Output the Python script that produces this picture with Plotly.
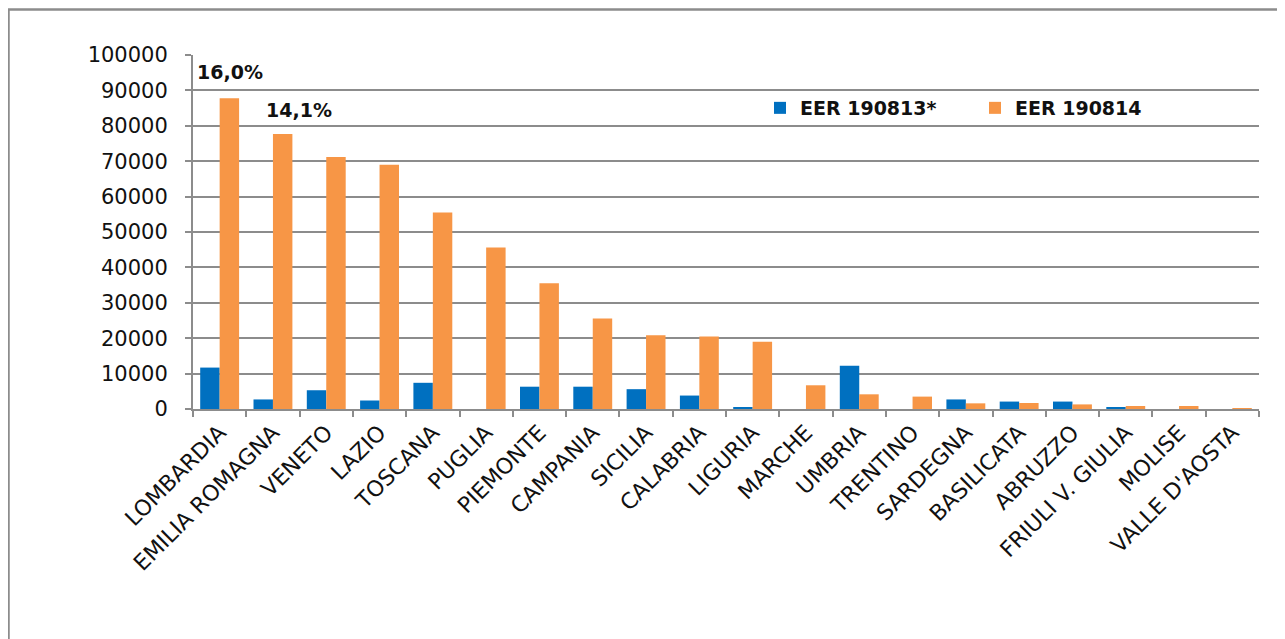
import plotly.graph_objects as go

regions = ["LOMBARDIA", "EMILIA ROMAGNA", "VENETO", "LAZIO", "TOSCANA", "PUGLIA",
           "PIEMONTE", "CAMPANIA", "SICILIA", "CALABRIA", "LIGURIA", "MARCHE",
           "UMBRIA", "TRENTINO", "SARDEGNA", "BASILICATA", "ABRUZZO",
           "FRIULI V. GIULIA", "MOLISE", "VALLE D'AOSTA"]
eer_190813 = [11700, 2700, 5300, 2400, 7400, 0, 6300, 6300, 5600, 3800, 570, 0,
              12250, 0, 2700, 2100, 2100, 570, 0, 0]
eer_190814 = [87800, 77700, 71200, 69000, 55500, 45600, 35500, 25600, 20800, 20500,
              19000, 6700, 4150, 3500, 1600, 1700, 1300, 850, 850, 100]
share_labels = ["16,0%", "14,1%"]
share_regions = ["LOMBARDIA", "EMILIA ROMAGNA"]
share_y = [95100, 84400]
share_xshift = [10, 26]

# the page body has an 8px margin, so the figure is drawn at (8, 8)
OFF = 8
W, H = 1285 - OFF, 639 - OFF
ML, MT = 193 - OFF, 55 - OFF
pw, ph = 1066, 354
MR = W - ML - pw
MB = H - MT - ph

GRID = "#8c8c8c"
FONT = "DejaVu Sans"

fig = go.Figure()
fig.add_trace(go.Bar(x=regions, y=eer_190813, name="EER 190813*",
                     marker=dict(color="#0070C0", line=dict(width=0))))
fig.add_trace(go.Bar(x=regions, y=eer_190814, name="EER 190814",
                     marker=dict(color="#F79646", line=dict(width=0))))

for txt, reg, yv, xs in zip(share_labels, share_regions, share_y, share_xshift):
    fig.add_annotation(x=reg, y=yv, xref="x", yref="y", text="<b>%s</b>" % txt,
                       showarrow=False, xshift=xs, yanchor="middle",
                       font=dict(family=FONT, size=19, color="#111111"))

# outer frame (page coords: left 8.5, top 9.5; right/bottom beyond the window)
fig.add_shape(type="rect", xref="paper", yref="paper",
              x0=(8.5 - OFF - ML) / pw, x1=(W + 20 - ML) / pw,
              y0=-(H + 20 - MT - ph) / ph, y1=(MT + ph - (9.5 - OFF)) / ph,
              line=dict(color=GRID, width=2.5), fillcolor="rgba(0,0,0,0)", layer="below")

fig.update_layout(
    width=W, height=H,
    margin=dict(l=ML, r=MR, t=MT, b=MB, autoexpand=False),
    paper_bgcolor="white", plot_bgcolor="white",
    barmode="group", bargap=0.27, bargroupgap=0,
    font=dict(family=FONT, size=20, color="#111111"),
    showlegend=True,
    legend=dict(orientation="h", x=(760 - OFF - ML) / pw, xanchor="left",
                y=(MT + ph - (108 - OFF)) / ph, yanchor="middle",
                font=dict(family=FONT, size=19, color="#111111", weight="bold"),
                bgcolor="rgba(0,0,0,0)", itemwidth=30, traceorder="normal",
                entrywidth=170, entrywidthmode="pixels"),
    xaxis=dict(type="category", tickangle=-45, tickson="boundaries",
               ticks="outside", ticklen=6, tickwidth=2, tickcolor=GRID,
               showline=True, linecolor=GRID, linewidth=2,
               showgrid=False, tickfont=dict(family=FONT, size=22, color="#111111")),
    yaxis=dict(range=[0, 100000], dtick=10000, tick0=0, tickformat="d",
               ticks="outside", ticklen=6, tickwidth=2, tickcolor=GRID,
               showline=True, linecolor=GRID, linewidth=2, ticklabelstandoff=13,
               showgrid=True, gridcolor=GRID, gridwidth=2, zeroline=False,
               tickfont=dict(family=FONT, size=21, color="#111111")),
)

fig.write_html("out.html")
